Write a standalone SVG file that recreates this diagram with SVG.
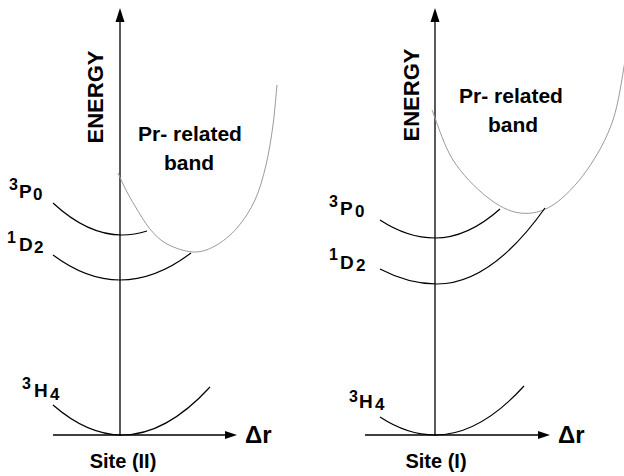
<svg xmlns="http://www.w3.org/2000/svg" width="624" height="476" viewBox="0 0 624 476">
<style>
  .ax { stroke: #000; stroke-width: 1.3; fill: none; }
  .lvl { stroke: #000; stroke-width: 1.2; fill: none; }
  .band { stroke: #9a9a9a; stroke-width: 1; fill: none; }
  .head { fill: #000; stroke: none; }
  text { font-family: "Liberation Sans", Arial, Helvetica, sans-serif; font-weight: bold; fill: #000; }
  .big { font-size: 21px; }
  .axl { font-size: 22px; }
  .site { font-size: 20px; }
  .dr { font-size: 24px; }
  .m { font-size: 19px; }
  .sup { font-size: 16px; }
  .sub { font-size: 17px; }
</style>
<rect width="624" height="476" fill="#fff"/>

<g id="connectors">
  <!-- left panel axes -->
  <line class="ax" x1="120" y1="436" x2="120" y2="20"/>
  <polygon class="head" points="120,8 115.5,22 124.5,22"/>
  <line class="ax" x1="53" y1="435" x2="227" y2="435"/>
  <polygon class="head" points="237,435 225,431 225,439"/>
  <!-- right panel axes -->
  <line class="ax" x1="435" y1="436" x2="435" y2="20"/>
  <polygon class="head" points="435,8 430.5,22 439.5,22"/>
  <line class="ax" x1="365" y1="435" x2="540" y2="435"/>
  <polygon class="head" points="550,435 538,431 538,439"/>
</g>

<g id="site-II">
  <path class="band" d="M118,173 C119.3,175.8 123.2,184.5 126,190 C128.8,195.5 131,199.5 135,206 C139,212.5 144.7,222.7 150,229 C155.3,235.3 159.8,240.2 167,244 C174.2,247.8 185,251.7 193,252 C201,252.3 207.7,250 215,246 C222.3,242 230.3,235.7 237,228 C243.7,220.3 250.2,210.5 255,200 C259.8,189.5 263,177.5 266,165 C269,152.5 271.2,138.3 273,125 C274.8,111.7 276.3,91.7 277,85"/>
  <path class="lvl" d="M53,203 Q87.5,235 122,235 Q134.5,235 147,231"/>
  <path class="lvl" d="M53,255 Q86.5,280 120,280 Q155.5,280 191,253"/>
  <path class="lvl" d="M53,405 Q87.5,435 122,435 Q166,435 210,387"/>
  <text class="axl" transform="translate(103,97) rotate(-90)" text-anchor="middle">ENERGY</text>
  <text class="big" x="190" y="141" text-anchor="middle">Pr- related</text>
  <text class="big" x="189" y="170" text-anchor="middle">band</text>
  <text><tspan class="sup" x="9" y="190">3</tspan><tspan class="m" x="19" y="198">P</tspan><tspan class="sub" x="33" y="200">0</tspan></text>
  <text><tspan class="sup" x="7" y="243">1</tspan><tspan class="m" x="19" y="251">D</tspan><tspan class="sub" x="34" y="253">2</tspan></text>
  <text><tspan class="sup" x="22" y="389">3</tspan><tspan class="m" x="34" y="397">H</tspan><tspan class="sub" x="50" y="400">4</tspan></text>
  <text class="dr" x="245" y="443">Δr</text>
  <text class="site" x="123" y="468" text-anchor="middle">Site (II)</text>
</g>

<g id="site-I">
  <path class="band" d="M432,110 C435.5,118.3 443.8,145.5 453,160 C462.2,174.5 475.8,188.2 487,197 C498.2,205.8 509,211.7 520,213 C531,214.3 541.8,212.2 553,205 C564.2,197.8 577,184.2 587,170 C597,155.8 606.5,139.2 613,120 C619.5,100.8 623.8,65.8 626,55"/>
  <path class="lvl" d="M380,220 Q407.5,238 435,238 Q467.5,238 500,209"/>
  <path class="lvl" d="M380,269 Q408.5,284 437,284 Q491,284 545,208"/>
  <path class="lvl" d="M380,417 Q407.5,435 435,435 Q479.5,435 524,386"/>
  <text class="axl" transform="translate(419,95) rotate(-90)" text-anchor="middle">ENERGY</text>
  <text class="big" x="511" y="103" text-anchor="middle">Pr- related</text>
  <text class="big" x="513" y="132" text-anchor="middle">band</text>
  <text><tspan class="sup" x="329" y="207">3</tspan><tspan class="m" x="340" y="215">P</tspan><tspan class="sub" x="355" y="217">0</tspan></text>
  <text><tspan class="sup" x="329" y="260">1</tspan><tspan class="m" x="340" y="269">D</tspan><tspan class="sub" x="356" y="271">2</tspan></text>
  <text><tspan class="sup" x="349" y="402">3</tspan><tspan class="m" x="359" y="408">H</tspan><tspan class="sub" x="375" y="410">4</tspan></text>
  <text class="dr" x="558" y="443">Δr</text>
  <text class="site" x="436" y="468" text-anchor="middle">Site (I)</text>
</g>
</svg>
